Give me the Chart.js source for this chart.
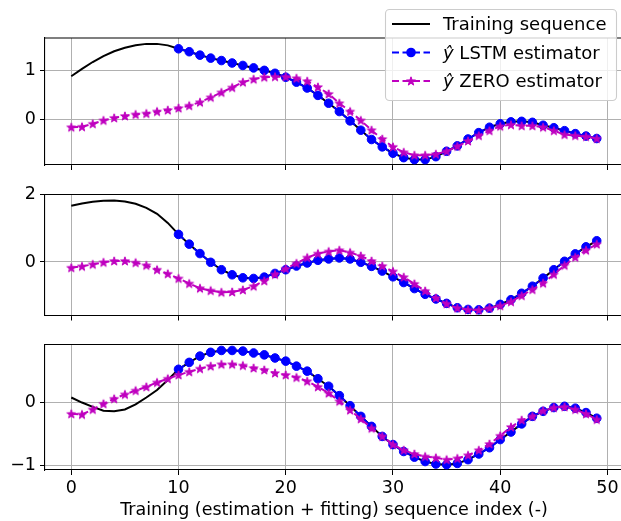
<!DOCTYPE html>
<html>
<head>
<meta charset="utf-8">
<script src="https://cdn.jsdelivr.net/npm/chart.js@4.4.1/dist/chart.umd.min.js"></script>
<style>
html, body { margin: 0; padding: 0; background: #fff; overflow: hidden; width: 621px; height: 521px; }
canvas { position: absolute; left: 0; }
</style>
</head>
<body>
<canvas id="panel1" width="630" height="180" style="top:0px"></canvas>
<canvas id="panel2" width="630" height="150" style="top:180px"></canvas>
<canvas id="panel3" width="630" height="191" style="top:330px"></canvas>
<script>
const xTicks = [0, 10, 20, 30, 40, 50];
const seriesLabels = ['Training sequence', 'ŷ LSTM estimator', 'ŷ ZERO estimator'];
const lstmStart = 10;
const xTitle = 'Training (estimation + fitting) sequence index (-)';

// top panel
const train1 = [0.88, 1.03, 1.17, 1.29, 1.39, 1.46, 1.51, 1.54, 1.54, 1.51, 1.44];
const lstm1 = [1.44, 1.38, 1.31, 1.25, 1.20, 1.15, 1.10, 1.05, 1.00, 0.94,
               0.86, 0.76, 0.64, 0.49, 0.33, 0.16, -0.03, -0.22, -0.41, -0.56,
               -0.69, -0.78, -0.82, -0.82, -0.76, -0.65, -0.54, -0.40, -0.27, -0.16,
               -0.09, -0.05, -0.04, -0.06, -0.12, -0.17, -0.23, -0.29, -0.34, -0.39];
const zero1 = [-0.16, -0.15, -0.09, -0.02, 0.03, 0.07, 0.10, 0.12, 0.16, 0.19,
               0.23, 0.28, 0.35, 0.45, 0.55, 0.65, 0.76, 0.82, 0.86, 0.87,
               0.87, 0.84, 0.78, 0.66, 0.52, 0.33, 0.16, -0.02, -0.22, -0.40,
               -0.56, -0.67, -0.73, -0.73, -0.71, -0.65, -0.55, -0.44, -0.33, -0.23,
               -0.14, -0.11, -0.13, -0.13, -0.16, -0.23, -0.31, -0.33, -0.35, -0.39];
const yTicks1 = [0, 1];

// middle panel
const train2 = [1.67, 1.74, 1.79, 1.82, 1.83, 1.80, 1.73, 1.61, 1.43, 1.16, 0.82];
const lstm2 = [0.82, 0.53, 0.25, -0.01, -0.23, -0.38, -0.47, -0.49, -0.45, -0.34,
               -0.23, -0.12, -0.03, 0.05, 0.09, 0.12, 0.09, -0.01, -0.13, -0.27,
               -0.44, -0.61, -0.79, -0.96, -1.10, -1.23, -1.36, -1.41, -1.42, -1.37,
               -1.26, -1.12, -0.93, -0.72, -0.48, -0.23, 0.02, 0.24, 0.45, 0.63];
const zero2 = [-0.17, -0.13, -0.07, -0.01, 0.03, 0.03, -0.02, -0.10, -0.23, -0.35,
               -0.49, -0.64, -0.78, -0.85, -0.90, -0.89, -0.83, -0.72, -0.56, -0.37,
               -0.20, -0.04, 0.13, 0.25, 0.31, 0.35, 0.28, 0.18, 0.03, -0.12,
               -0.28, -0.45, -0.65, -0.86, -1.07, -1.24, -1.37, -1.42, -1.43, -1.37,
               -1.30, -1.18, -1.00, -0.82, -0.63, -0.37, -0.10, 0.14, 0.35, 0.53];
const yTicks2 = [0, 2];

// bottom panel
const train3 = [0.08, 0.00, -0.07, -0.13, -0.14, -0.11, -0.03, 0.08, 0.20, 0.36, 0.53];
const lstm3 = [0.53, 0.64, 0.74, 0.80, 0.83, 0.83, 0.82, 0.79, 0.76, 0.71,
               0.66, 0.58, 0.50, 0.38, 0.26, 0.11, -0.05, -0.22, -0.38, -0.54,
               -0.67, -0.78, -0.87, -0.94, -0.98, -0.99, -0.97, -0.91, -0.82, -0.72,
               -0.59, -0.47, -0.34, -0.22, -0.14, -0.08, -0.06, -0.09, -0.16, -0.25];
const zero3 = [-0.18, -0.19, -0.11, -0.02, 0.06, 0.13, 0.19, 0.25, 0.32, 0.38,
               0.44, 0.49, 0.54, 0.58, 0.61, 0.61, 0.59, 0.55, 0.52, 0.47,
               0.44, 0.40, 0.34, 0.25, 0.15, 0.02, -0.12, -0.26, -0.41, -0.54,
               -0.67, -0.76, -0.82, -0.86, -0.88, -0.91, -0.89, -0.84, -0.76, -0.66,
               -0.53, -0.39, -0.28, -0.22, -0.13, -0.08, -0.07, -0.11, -0.18, -0.27];
const yTicks3 = [-1, 0];

const FONT = 'DejaVu Sans';
const FSIZE = 17.5;
const LSIZE = 18;
const BLUE = '#0000ff';
const MAG = '#bf00bf';
const DASH = [7, 3.5];

function starImage(color) {
    const c = document.createElement('canvas');
    const s = 12;
    c.width = s; c.height = s;
    const g = c.getContext('2d');
    g.fillStyle = color;
    g.strokeStyle = color;
    g.lineWidth = 1;
    g.beginPath();
    for (let k = 0; k < 10; k++) {
        const r = k % 2 === 0 ? 4.6 : 1.85;
        const a = -Math.PI / 2 + k * Math.PI / 5;
        const px = s / 2 + r * Math.cos(a), py = s / 2 + 0.4 + r * Math.sin(a);
        if (k === 0) g.moveTo(px, py); else g.lineTo(px, py);
    }
    g.closePath();
    g.fill();
    g.stroke();
    return c;
}
const star = starImage(MAG);

function makeDatasets(train, lstm, zero) {
    const trainFull = train.concat(lstm.slice(1));
    return [
        {
            label: seriesLabels[0],
            data: trainFull.map((v, i) => ({ x: i, y: v })),
            borderColor: '#000', borderWidth: 2, pointRadius: 0, order: 2
        },
        {
            label: seriesLabels[1],
            data: lstm.map((v, i) => ({ x: i + lstmStart, y: v })),
            borderColor: BLUE, backgroundColor: BLUE, borderWidth: 2, borderDash: DASH,
            pointRadius: 4.3, pointBorderWidth: 1, pointBackgroundColor: BLUE, pointBorderColor: BLUE, order: 1
        },
        {
            label: seriesLabels[2],
            data: zero.map((v, i) => ({ x: i, y: v })),
            borderColor: MAG, backgroundColor: MAG, borderWidth: 2, borderDash: DASH,
            pointStyle: star, pointRadius: 5, order: 0
        }
    ];
}

// top and right spines (matplotlib draws a box round each axes)
const frame = {
    id: 'frame',
    afterDraw(chart) {
        const a = chart.chartArea, ctx = chart.ctx;
        ctx.save();
        ctx.strokeStyle = '#000';
        ctx.lineWidth = 1.1;
        ctx.beginPath();
        ctx.moveTo(a.left, a.top);
        ctx.lineTo(a.right, a.top);
        ctx.lineTo(a.right, a.bottom);
        ctx.stroke();
        ctx.restore();
    }
};

const boxLegend = {
    id: 'boxLegend',
    afterDraw(chart) {
        const ctx = chart.ctx;
        ctx.save();
        const bx = 385.5, by = 9.5, bw = 231, bh = 91, r = 4;
        ctx.beginPath();
        ctx.roundRect(bx, by, bw, bh, r);
        ctx.fillStyle = 'rgba(255,255,255,0.8)';
        ctx.fill();
        ctx.strokeStyle = '#cccccc';
        ctx.lineWidth = 1.1;
        ctx.stroke();
        const rows = [24, 52.5, 81];
        chart.data.datasets.forEach((ds, k) => {
            const y = rows[k];
            ctx.strokeStyle = ds.borderColor;
            ctx.lineWidth = ds.borderWidth;
            ctx.setLineDash(ds.borderDash || []);
            ctx.beginPath();
            ctx.moveTo(392, y);
            ctx.lineTo(430, y);
            ctx.stroke();
            ctx.setLineDash([]);
            if (ds.pointStyle === star) {
                ctx.drawImage(star, 411 - 6, y - 6);
            } else if (ds.pointRadius > 0) {
                ctx.fillStyle = ds.pointBackgroundColor;
                ctx.beginPath();
                ctx.arc(411, y, ds.pointRadius + 0.5, 0, Math.PI * 2);
                ctx.fill();
            }
            ctx.fillStyle = '#000';
            ctx.textBaseline = 'middle';
            let label = ds.label, tx = 443;
            const ty = y + 1.5;
            if (label.startsWith('ŷ')) {
                ctx.font = 'italic ' + LSIZE + 'px ' + FONT;
                ctx.fillText('ŷ', tx, ty);
                tx += ctx.measureText('ŷ').width;
                label = label.slice(1);
            }
            ctx.font = LSIZE + 'px ' + FONT;
            ctx.fillText(label, tx, ty);
        });
        ctx.restore();
    }
};

function minusTick(v) {
    return String(v).replace('-', '\u2212');
}

function createPanel(id, train, lstm, zero, yTicks, yMin, yMax, padTop, xHeight, bottom, extra) {
    const gridOpts = { color: '#b0b0b0', lineWidth: 1, tickColor: '#000', tickLength: 5, drawTicks: true };
    const borderOpts = { color: '#000', width: 1.1 };
    new Chart(document.getElementById(id).getContext('2d'), {
        type: 'line',
        data: { datasets: makeDatasets(train, lstm, zero) },
        options: {
            responsive: false,
            animation: false,
            events: [],
            layout: { padding: { top: padTop, left: 0, right: 5, bottom: 0 } },
            plugins: { legend: { display: false }, tooltip: { enabled: false } },
            scales: {
                x: {
                    type: 'linear', min: -2.45, max: 51.45,
                    afterBuildTicks: s => { s.ticks = xTicks.map(v => ({ value: v })); },
                    afterFit: s => { s.height = xHeight; },
                    grid: gridOpts,
                    border: borderOpts,
                    ticks: { display: bottom, color: '#000', font: { family: FONT, size: FSIZE }, padding: 3, maxRotation: 0, autoSkip: false },
                    title: { display: bottom, text: xTitle, color: '#000', font: { family: FONT, size: FSIZE }, padding: { top: 0, bottom: 0 } }
                },
                y: {
                    min: yMin, max: yMax,
                    afterBuildTicks: s => { s.ticks = yTicks.map(v => ({ value: v })); },
                    afterFit: s => { s.width = 45; },
                    grid: gridOpts,
                    border: borderOpts,
                    ticks: { color: '#000', font: { family: FONT, size: FSIZE }, padding: 4, callback: minusTick }
                }
            }
        },
        plugins: extra
    });
}

createPanel('panel1', train1, lstm1, zero1, yTicks1, -0.93, 1.66, 38, 15, false, [frame, boxLegend]);
createPanel('panel2', train2, lstm2, zero2, yTicks2, -1.59, 2.005, 11, 13, false, [frame]);
createPanel('panel3', train3, lstm3, zero3, yTicks3, -1.075, 0.925, 14, 51, true, [frame]);
</script>
</body>
</html>
